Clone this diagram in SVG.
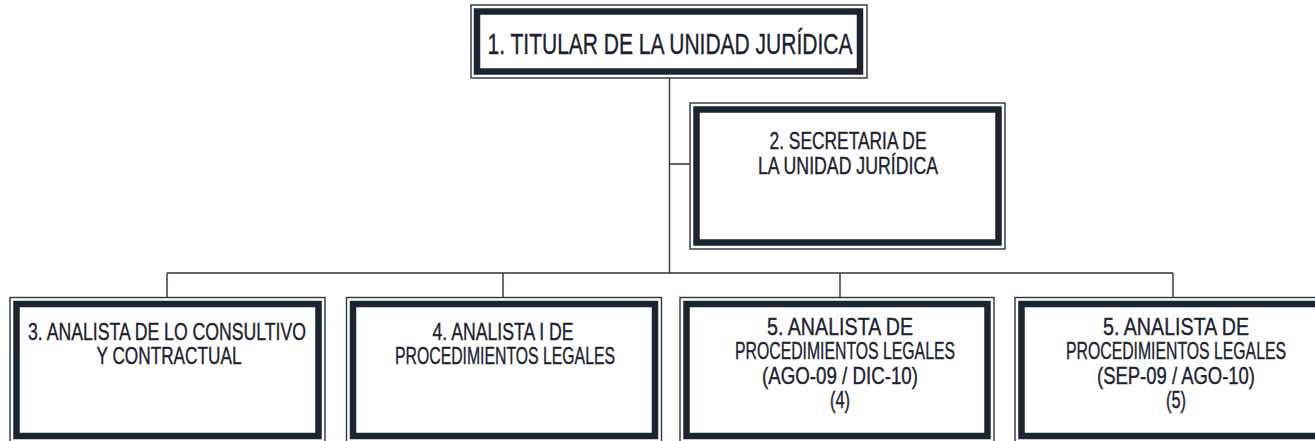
<svg xmlns="http://www.w3.org/2000/svg" width="1315" height="441" viewBox="0 0 1315 441">
<style>
.outer{fill:none;stroke:#2b3442;stroke-width:1.4}
.inner{fill:#fff;stroke:#1c2432;stroke-width:6.5}
.t{font-family:"Liberation Sans Narrow","Liberation Sans",Arial,sans-serif;font-size:24.5px;fill:#1c2230;stroke:#1c2230;stroke-width:0.4;text-anchor:middle}
.t1{font-size:29px}
.c{fill:none;stroke:#2b3442;stroke-width:1.4}
</style>
<rect width="1315" height="441" fill="#fff"/>
<g id="connectors">
<path class="c" d="M669.5 78V273M669.5 164H690M167 273H1173M167 273V297.5M503 273V297.5M840 273V297.5M1173 273V297.5"/>
</g>
<g id="n1">
<rect class="outer" x="471" y="5" width="396" height="73"/>
<rect class="inner" x="477" y="11.5" width="383" height="60"/>
<text class="t t1" x="670" y="54" textLength="365" lengthAdjust="spacingAndGlyphs">1. TITULAR DE LA UNIDAD JURÍDICA</text>
</g>
<g id="n2">
<rect class="outer" x="690" y="103" width="315" height="146"/>
<rect class="inner" x="696.5" y="109.5" width="302" height="133"/>
<text class="t" x="848" y="149" textLength="157" lengthAdjust="spacingAndGlyphs">2. SECRETARIA DE</text>
<text class="t" x="848" y="173.5" textLength="180" lengthAdjust="spacingAndGlyphs">LA UNIDAD JURÍDICA</text>
</g>
<g id="n3">
<rect class="outer" x="10" y="297.5" width="315" height="145"/>
<rect class="inner" x="16.5" y="304" width="302" height="132"/>
<text class="t" x="167" y="339.5" textLength="278" lengthAdjust="spacingAndGlyphs">3. ANALISTA DE LO CONSULTIVO</text>
<text class="t" x="169" y="364" textLength="145" lengthAdjust="spacingAndGlyphs">Y CONTRACTUAL</text>
</g>
<g id="n4">
<rect class="outer" x="346.5" y="297.5" width="315" height="145"/>
<rect class="inner" x="353" y="304" width="302" height="132"/>
<text class="t" x="503" y="339.5" textLength="141" lengthAdjust="spacingAndGlyphs">4. ANALISTA I DE</text>
<text class="t" x="505" y="364" textLength="220" lengthAdjust="spacingAndGlyphs">PROCEDIMIENTOS LEGALES</text>
</g>
<g id="n5">
<rect class="outer" x="680" y="297.5" width="314" height="145"/>
<rect class="inner" x="686.5" y="304" width="301" height="132"/>
<text class="t" x="840" y="334.5" textLength="146" lengthAdjust="spacingAndGlyphs">5. ANALISTA DE</text>
<text class="t" x="845" y="359" textLength="220" lengthAdjust="spacingAndGlyphs">PROCEDIMIENTOS LEGALES</text>
<text class="t" x="840" y="383.5" textLength="156" lengthAdjust="spacingAndGlyphs">(AGO-09 / DIC-10)</text>
<text class="t" x="840" y="408" textLength="20" lengthAdjust="spacingAndGlyphs">(4)</text>
</g>
<g id="n6">
<rect class="outer" x="1015" y="297.5" width="315" height="145"/>
<rect class="inner" x="1021.5" y="304" width="302" height="132"/>
<text class="t" x="1176" y="334.5" textLength="146" lengthAdjust="spacingAndGlyphs">5. ANALISTA DE</text>
<text class="t" x="1176" y="359" textLength="220" lengthAdjust="spacingAndGlyphs">PROCEDIMIENTOS LEGALES</text>
<text class="t" x="1176" y="383.5" textLength="158" lengthAdjust="spacingAndGlyphs">(SEP-09 / AGO-10)</text>
<text class="t" x="1176" y="408" textLength="20" lengthAdjust="spacingAndGlyphs">(5)</text>
</g>
</svg>
